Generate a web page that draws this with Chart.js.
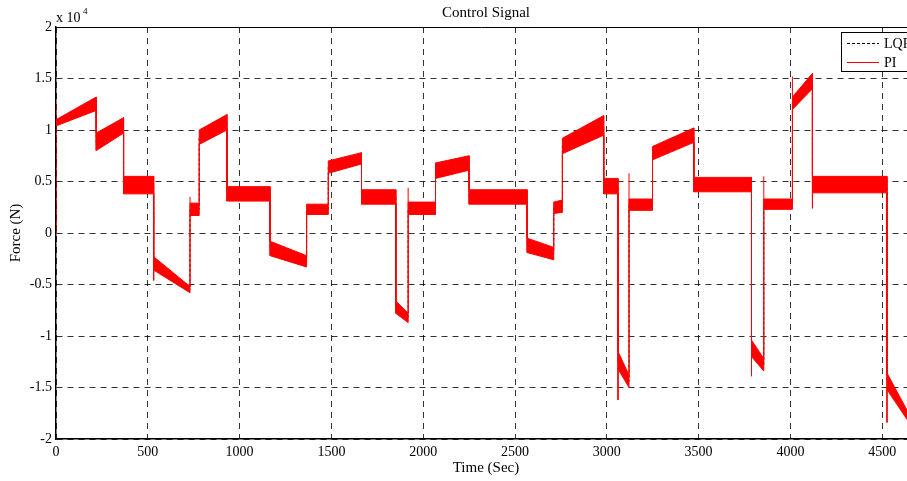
<!DOCTYPE html>
<html lang="en">
<head>
    <meta charset="UTF-8">
    <title>Control Signal</title>
    <script src="https://cdn.jsdelivr.net/npm/chart.js"></script>
    <style>
        body { margin: 0; background: #fff; }
        canvas { display: block; }
    </style>
</head>
<body>
    <canvas id="signalChart" width="907" height="481"></canvas>

    <script>
        // segment boundaries (sec) - the signal is a sequence of noisy steps
        const segTime = [0, 219, 368, 532, 730, 780, 931, 1166, 1365, 1483, 1664, 1851, 1918, 2067,
            2250, 2566, 2711, 2758, 2983, 3061, 3121, 3249, 3474, 3788, 3855, 4011, 4120, 4526, 4635];

        // PI noise band (x 10^4 N): top / bottom edge at the start and end of each segment
        const upperStart = [1.10, 0.97, 0.55, -0.23, 0.29, 1.00, 0.45, -0.08, 0.28, 0.70, 0.42, -0.66, 0.30, 0.68,
            0.42, -0.05, 0.30, 0.92, 0.53, -1.15, 0.33, 0.84, 0.54, -1.04, 0.33, 1.32, 0.55, -1.36];
        const upperEnd = [1.32, 1.12, 0.55, -0.52, 0.29, 1.15, 0.45, -0.22, 0.28, 0.78, 0.42, -0.78, 0.30, 0.75,
            0.42, -0.14, 0.32, 1.14, 0.53, -1.38, 0.33, 1.02, 0.54, -1.22, 0.33, 1.55, 0.55, -1.72];
        const lowerStart = [1.04, 0.80, 0.38, -0.36, 0.17, 0.86, 0.31, -0.22, 0.18, 0.58, 0.28, -0.78, 0.18, 0.53,
            0.28, -0.19, 0.19, 0.77, 0.38, -1.32, 0.22, 0.71, 0.40, -1.20, 0.23, 1.20, 0.39, -1.52];
        const lowerEnd = [1.19, 0.97, 0.38, -0.58, 0.17, 1.00, 0.31, -0.33, 0.18, 0.67, 0.28, -0.87, 0.18, 0.61,
            0.28, -0.26, 0.20, 0.95, 0.38, -1.50, 0.22, 0.88, 0.40, -1.34, 0.23, 1.40, 0.39, -1.81];

        // LQR trace (mostly hidden under the PI band)
        const lqrStart = [1.07, 0.88, 0.46, -0.30, 0.23, 0.93, 0.38, -0.15, 0.23, 0.64, 0.35, -0.72, 0.24, 0.60,
            0.35, -0.12, 0.25, 0.85, 0.45, -1.24, 0.27, 0.78, 0.47, -1.12, 0.28, 1.26, 0.47, -1.44];
        const lqrEnd = [1.25, 1.04, 0.46, -0.55, 0.23, 1.07, 0.38, -0.27, 0.23, 0.72, 0.35, -0.82, 0.24, 0.68,
            0.35, -0.20, 0.26, 1.04, 0.45, -1.44, 0.27, 0.95, 0.47, -1.28, 0.28, 1.47, 0.47, -1.76];

        // spikes at switching instants
        const spikeTime = [0, 532, 730, 1918, 3061, 3121, 3788, 3855, 4011, 4120, 4526];
        const spikeFrom = [0, -0.36, 0.17, 0.18, -1.32, 0.22, -1.20, 0.23, 1.32, 0.39, -1.52];
        const spikeTo = [1.25, -0.46, 0.35, 0.44, -1.62, 0.58, -1.39, 0.55, 1.52, 0.24, -1.84];

        const xTicks = [0, 500, 1000, 1500, 2000, 2500, 3000, 3500, 4000, 4500];
        const yTicks = [-2, -1.5, -1, -0.5, 0, 0.5, 1, 1.5, 2];

        function segPoints(startVals, endVals) {
            const pts = [];
            for (let i = 0; i < startVals.length; i++) {
                pts.push({ x: segTime[i], y: startVals[i] });
                pts.push({ x: segTime[i + 1], y: endVals[i] });
            }
            return pts;
        }

        const spikePts = [];
        spikeTime.forEach((t, i) => {
            spikePts.push({ x: t, y: spikeFrom[i] });
            spikePts.push({ x: t, y: spikeTo[i] });
            spikePts.push({ x: t, y: null });
        });

        const lqrPts = [{ x: 0, y: 0 }].concat(segPoints(lqrStart, lqrEnd));

        const serif = '"Liberation Serif", "Times New Roman", serif';

        // title, axis titles, exponent, top box line and legend
        const decorations = {
            id: 'decorations',
            afterDraw(chart) {
                const ctx = chart.ctx;
                const area = chart.chartArea;
                ctx.save();
                ctx.strokeStyle = '#000';
                ctx.lineWidth = 1;
                ctx.beginPath();
                ctx.moveTo(area.left, area.top + 0.5);
                ctx.lineTo(area.right, area.top + 0.5);
                ctx.stroke();

                ctx.fillStyle = '#000';
                ctx.font = '15px ' + serif;
                ctx.textAlign = 'center';
                ctx.textBaseline = 'middle';
                ctx.fillText('Control Signal', 486, 13);
                ctx.fillText('Time (Sec)', 486, 468);

                ctx.save();
                ctx.translate(16, 233);
                ctx.rotate(-Math.PI / 2);
                ctx.fillText('Force (N)', 0, 0);
                ctx.restore();

                ctx.textAlign = 'left';
                ctx.font = '14px ' + serif;
                ctx.fillText('x 10', 56, 18);
                ctx.font = '9px ' + serif;
                ctx.fillText('4', 83, 12);

                // legend box
                const lx = 841, ly = 32, lw = 80, lh = 39;
                ctx.fillStyle = '#fff';
                ctx.fillRect(lx, ly, lw, lh);
                ctx.strokeRect(lx + 0.5, ly + 0.5, lw, lh);

                ctx.lineWidth = 1;
                ctx.strokeStyle = '#000';
                ctx.setLineDash([3, 2]);
                ctx.beginPath();
                ctx.moveTo(847, 43.5);
                ctx.lineTo(879, 43.5);
                ctx.stroke();
                ctx.setLineDash([]);
                ctx.strokeStyle = '#ff0000';
                ctx.beginPath();
                ctx.moveTo(847, 62.5);
                ctx.lineTo(879, 62.5);
                ctx.stroke();

                ctx.fillStyle = '#000';
                ctx.font = '14px ' + serif;
                ctx.fillText('LQR', 884, 44);
                ctx.fillText('PI', 884, 63);
                ctx.restore();
            }
        };

        const ctx = document.getElementById('signalChart').getContext('2d');
        new Chart(ctx, {
            type: 'line',
            data: {
                datasets: [
                    {
                        label: 'PI upper',
                        data: segPoints(upperStart, upperEnd),
                        borderColor: '#ff0000',
                        borderWidth: 1,
                        pointRadius: 0,
                        fill: false,
                        order: 0
                    },
                    {
                        label: 'PI lower',
                        data: segPoints(lowerStart, lowerEnd),
                        borderColor: '#ff0000',
                        backgroundColor: '#ff0000',
                        borderWidth: 1,
                        pointRadius: 0,
                        fill: '-1',
                        order: 0
                    },
                    {
                        label: 'PI spikes',
                        data: spikePts,
                        borderColor: '#ff0000',
                        borderWidth: 1,
                        pointRadius: 0,
                        spanGaps: false,
                        fill: false,
                        order: 0
                    },
                    {
                        label: 'LQR',
                        data: lqrPts,
                        borderColor: '#000',
                        borderWidth: 1,
                        borderDash: [3, 2],
                        pointRadius: 0,
                        fill: false,
                        order: 1
                    }
                ]
            },
            options: {
                responsive: false,
                animation: false,
                layout: { padding: { top: 27, left: 0, right: 0, bottom: 0 } },
                plugins: {
                    legend: { display: false },
                    title: { display: false },
                    tooltip: { enabled: false }
                },
                scales: {
                    x: {
                        type: 'linear',
                        min: 0,
                        max: 4635,
                        afterFit: s => { s.height = 42; },
                        afterBuildTicks: s => { s.ticks = xTicks.map(v => ({ value: v })); },
                        ticks: {
                            maxRotation: 0,
                            autoSkip: false,
                            padding: 5,
                            color: '#000',
                            font: { family: serif, size: 14 },
                            callback: v => String(v)
                        },
                        grid: { color: 'rgba(0,0,0,0.8)', lineWidth: 1, drawTicks: false },
                        border: { display: true, color: '#000', width: 1.5, dash: [6, 5] }
                    },
                    y: {
                        type: 'linear',
                        min: -2,
                        max: 2,
                        afterFit: s => { s.width = 56; },
                        afterBuildTicks: s => { s.ticks = yTicks.map(v => ({ value: v })); },
                        ticks: {
                            padding: 4,
                            color: '#000',
                            font: { family: serif, size: 14 },
                            callback: v => String(v)
                        },
                        grid: { color: 'rgba(0,0,0,0.8)', lineWidth: 1, drawTicks: false },
                        border: { display: true, color: '#000', width: 1.5, dash: [6, 5] }
                    }
                }
            },
            plugins: [decorations]
        });
    </script>
</body>
</html>
